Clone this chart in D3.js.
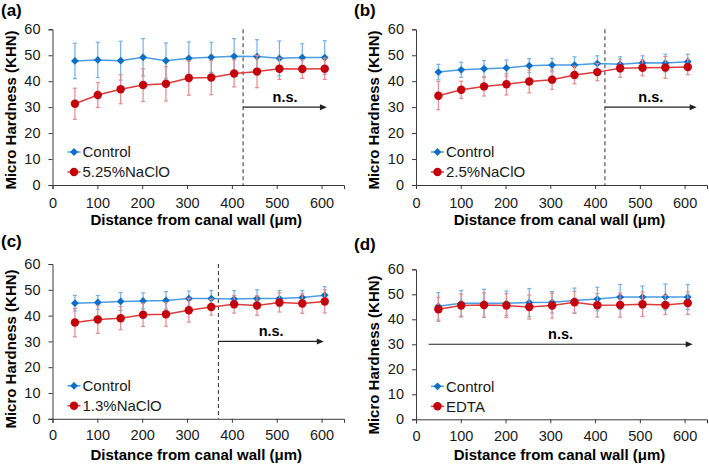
<!DOCTYPE html>
<html>
<head>
<meta charset="utf-8">
<script src="https://cdn.jsdelivr.net/npm/d3@7"></script>
<style>
  body { margin: 0; background: #fff; }
  svg { display: block; font-family: "Liberation Sans", Arial, sans-serif; }
</style>
</head>
<body>
<script>
// distance from canal wall (um), same for every panel
const distances = [50, 101, 152, 202, 253, 304, 354, 405, 456, 506, 557, 607];
const xTicks = [0, 100, 200, 300, 400, 500, 600];
const yTicks = [0, 10, 20, 30, 40, 50, 60];

// (a) 5.25% NaClO
const controlA = [47.8, 48.2, 47.9, 49.2, 47.9, 48.8, 49.2, 49.6, 49.5, 48.8, 49.1, 49.1];
const controlSdA = [6.8, 6.8, 7.5, 7.2, 6.8, 6.3, 5.8, 6.8, 6.5, 6.7, 5.3, 6.5];
const naclo525 = [31.3, 34.7, 36.9, 38.5, 39.0, 41.2, 41.4, 43.0, 43.7, 44.8, 44.7, 44.8];
const naclo525Sd = [6.0, 4.8, 5.6, 6.3, 6.6, 6.6, 6.6, 5.2, 6.2, 4.1, 3.6, 4.1];

// (b) 2.5% NaClO
const controlB = [43.5, 44.4, 44.8, 45.1, 46.0, 46.2, 46.2, 46.8, 46.5, 47.1, 47.0, 47.5];
const controlSdB = [3.0, 2.9, 3.2, 3.1, 2.7, 2.6, 3.2, 3.0, 2.9, 2.7, 3.4, 2.9];
const naclo25 = [34.4, 36.7, 38.0, 38.8, 39.9, 40.6, 42.4, 43.5, 45.0, 45.2, 45.3, 45.5];
const naclo25Sd = [5.4, 3.3, 3.7, 4.1, 4.4, 3.7, 3.4, 3.3, 3.5, 3.1, 4.2, 3.0];

// (c) 1.3% NaClO
const controlC = [44.8, 45.1, 45.5, 45.7, 45.9, 46.6, 46.6, 46.4, 46.6, 46.6, 47.0, 47.9];
const controlSdC = [3.0, 2.7, 3.5, 3.1, 3.4, 2.9, 3.1, 3.3, 3.4, 3.1, 2.7, 3.3];
const naclo13 = [37.3, 38.5, 39.0, 40.3, 40.5, 42.1, 43.3, 44.4, 43.9, 45.1, 44.7, 45.5];
const naclo13Sd = [5.5, 5.4, 4.5, 4.5, 4.6, 4.6, 3.1, 3.4, 3.8, 3.7, 3.8, 4.5];

// (d) EDTA
const controlD = [45.2, 46.4, 46.4, 46.4, 46.7, 46.8, 47.5, 48.1, 48.9, 48.9, 48.9, 48.9];
const controlSdD = [5.5, 5.1, 5.6, 4.9, 5.6, 4.3, 5.0, 4.7, 5.0, 4.4, 5.2, 5.0];
const edta = [44.0, 45.5, 45.7, 45.5, 44.9, 45.5, 46.8, 45.6, 45.7, 46.0, 45.7, 46.5];
const edtaSd = [4.8, 4.6, 4.9, 4.8, 4.8, 5.0, 4.4, 4.7, 4.8, 4.9, 3.8, 4.5];

const panelLetters = ['(a)', '(b)', '(c)', '(d)'];
const treatmentNames = ['5.25%NaClO', '2.5%NaClO', '1.3%NaClO', 'EDTA'];
// n.s. range start/end (um), and whether a dashed cut line is drawn
const nsFrom = [425, 422, 370, 28];
const nsTo = [612, 627, 605, 618];
const nsLevel = 30;

const panels = [
  { control: controlA, controlSd: controlSdA, treat: naclo525, treatSd: naclo525Sd,
    box: { left: 52.5, right: 344, top: 29.3, bottom: 185 }, letter: [1, 15.5], yTitle: [16, 110], xTitleY: 225, tickPad: 9, dashed: true },
  { control: controlB, controlSd: controlSdB, treat: naclo25, treatSd: naclo25Sd,
    box: { left: 416, right: 707, top: 29.3, bottom: 185 }, letter: [354, 15.5], yTitle: [379, 110], xTitleY: 225, tickPad: 9, dashed: true },
  { control: controlC, controlSd: controlSdC, treat: naclo13, treatSd: naclo13Sd,
    box: { left: 52.5, right: 344, top: 264, bottom: 418.8 }, letter: [1, 247], yTitle: [16, 349], xTitleY: 459.5, tickPad: 7, dashed: true },
  { control: controlD, controlSd: controlSdD, treat: edta, treatSd: edtaSd,
    box: { left: 416, right: 707, top: 269.3, bottom: 419.3 }, letter: [354, 250], yTitle: [379, 355], xTitleY: 459.5, tickPad: 7, dashed: false }
];

const blue = '#0b6fc3', blueLine = '#4b9ce2', blueBar = '#72b0ea';
const red = '#c4000c', redLine = '#d93c3c', redBar = '#e58a8a';
const axisColor = '#3a3a3a';

const svg = d3.select('body').append('svg')
  .attr('width', 709)
  .attr('height', 464);

const diamond = (r) => `M0,${-r}L${r},0L0,${r}L${-r},0Z`;

panels.forEach(function (p, i) {
  const b = p.box;
  const x = d3.scaleLinear().domain([0, 650]).range([b.left, b.right]);
  const y = d3.scaleLinear().domain([0, 60]).range([b.bottom, b.top]);
  const g = svg.append('g');

  // axes
  const yAxis = g.append('g')
    .attr('transform', `translate(${b.left},0)`)
    .call(d3.axisLeft(y).tickValues(yTicks).tickSize(4).tickPadding(8));
  const xAxis = g.append('g')
    .attr('transform', `translate(0,${b.bottom})`)
    .call(d3.axisBottom(x).tickValues(xTicks).tickSize(4).tickPadding(p.tickPad));
  [yAxis, xAxis].forEach(function (a) {
    a.select('.domain').attr('stroke', axisColor);
    a.selectAll('.tick line').attr('stroke', axisColor);
    a.selectAll('.tick text').attr('fill', '#1a1a1a').style('font-size', '14.5px');
  });

  // titles
  g.append('text')
    .attr('x', p.letter[0]).attr('y', p.letter[1])
    .style('font-size', '17px').style('font-weight', 'bold')
    .text(panelLetters[i]);
  g.append('text')
    .attr('transform', `translate(${p.yTitle[0]},${p.yTitle[1]}) rotate(-90)`)
    .attr('text-anchor', 'middle')
    .style('font-size', '15px').style('font-weight', 'bold')
    .text('Micro Hardness (KHN)');
  g.append('text')
    .attr('x', (b.left + b.right) / 2 - 2).attr('y', p.xTitleY)
    .attr('text-anchor', 'middle')
    .style('font-size', '15px').style('font-weight', 'bold')
    .text('Distance from canal wall (μm)');

  // significance marks
  if (p.dashed) {
    g.append('line')
      .attr('x1', x(nsFrom[i])).attr('x2', x(nsFrom[i]))
      .attr('y1', y(60)).attr('y2', y(0))
      .attr('stroke', '#444').attr('stroke-width', 1.1)
      .attr('stroke-dasharray', '4,3');
  }
  const ay = y(nsLevel);
  g.append('line')
    .attr('x1', x(nsFrom[i])).attr('x2', x(nsTo[i]) - 5)
    .attr('y1', ay).attr('y2', ay)
    .attr('stroke', '#222').attr('stroke-width', 1.1);
  g.append('path')
    .attr('d', `M${x(nsTo[i])},${ay}l-7,-3v6z`)
    .attr('fill', '#222');
  g.append('text')
    .attr('x', x((nsFrom[i] + nsTo[i]) / 2)).attr('y', ay - 5)
    .attr('text-anchor', 'middle')
    .style('font-size', '14.5px').style('font-weight', 'bold')
    .text('n.s.');

  // series
  const series = [
    { vals: p.control, sd: p.controlSd, mark: blue, line: blueLine, bar: blueBar, shape: 'diamond' },
    { vals: p.treat, sd: p.treatSd, mark: red, line: redLine, bar: redBar, shape: 'circle' }
  ];
  const line = d3.line().x((d) => x(d[0])).y((d) => y(d[1]));

  series.forEach(function (s) {
    const pts = distances.map((dx, k) => [dx, s.vals[k], s.sd[k]]);
    const bars = g.append('g').attr('stroke', s.bar).attr('stroke-width', 1.2);
    pts.forEach(function (d) {
      const cx = x(d[0]);
      bars.append('line').attr('x1', cx).attr('x2', cx)
        .attr('y1', y(d[1] + d[2])).attr('y2', y(d[1] - d[2]));
      bars.append('line').attr('x1', cx - 2).attr('x2', cx + 2)
        .attr('y1', y(d[1] + d[2])).attr('y2', y(d[1] + d[2]));
      bars.append('line').attr('x1', cx - 2).attr('x2', cx + 2)
        .attr('y1', y(d[1] - d[2])).attr('y2', y(d[1] - d[2]));
    });
    g.append('path').datum(pts)
      .attr('d', line).attr('fill', 'none')
      .attr('stroke', s.line).attr('stroke-width', 1.5);
    g.selectAll(null).data(pts).enter()
      .append('path')
      .attr('transform', (d) => `translate(${x(d[0])},${y(d[1])})`)
      .attr('d', s.shape === 'diamond' ? diamond(3.9) : d3.symbol(d3.symbolCircle, 56)())
      .attr('fill', s.mark);
  });

  // legend
  const legendNames = ['Control', treatmentNames[i]];
  series.forEach(function (s, k) {
    const ly = b.bottom - 33 + k * 20;
    const lx = b.left + 15;
    g.append('line').attr('x1', lx).attr('x2', lx + 13)
      .attr('y1', ly).attr('y2', ly)
      .attr('stroke', s.line).attr('stroke-width', 1.5);
    g.append('path')
      .attr('transform', `translate(${lx + 6.5},${ly})`)
      .attr('d', s.shape === 'diamond' ? diamond(3.9) : d3.symbol(d3.symbolCircle, 56)())
      .attr('fill', s.mark);
    g.append('text')
      .attr('x', lx + 15).attr('y', ly)
      .attr('dy', '0.35em')
      .style('font-size', '15px')
      .attr('fill', '#1a1a1a')
      .text(legendNames[k]);
  });
});
</script>
</body>
</html>
